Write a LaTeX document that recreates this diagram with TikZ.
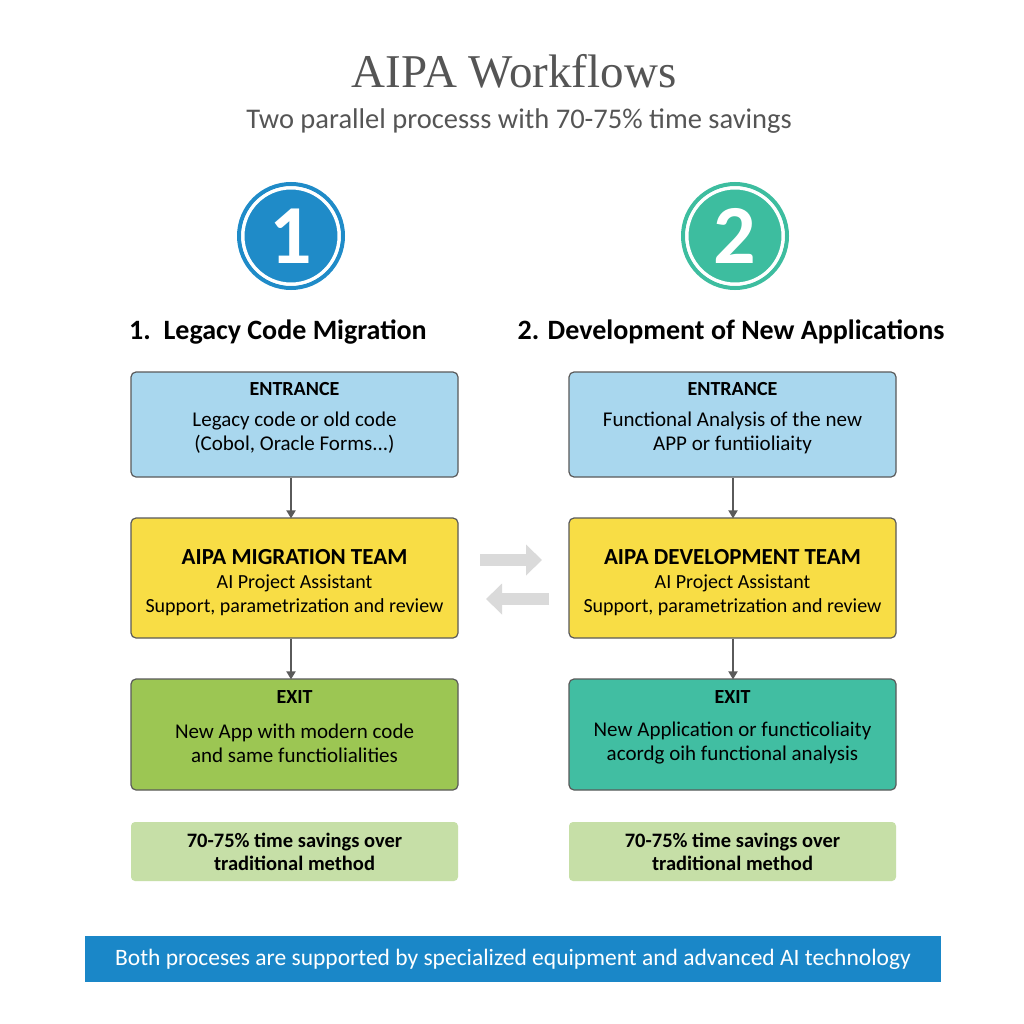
\documentclass[tikz,border=0pt]{standalone}
\usepackage{fontspec}
\setmainfont{Carlito}
\newfontfamily\titlefont{Liberation Serif}
\usetikzlibrary{arrows.meta,shapes.arrows}
\definecolor{cBlueLt}{HTML}{A9D7EE}
\definecolor{cYellow}{HTML}{F8DD45}
\definecolor{cGreen}{HTML}{9CC653}
\definecolor{cTeal}{HTML}{41BEA2}
\definecolor{cSave}{HTML}{C6DFA7}
\definecolor{cCirA}{HTML}{1F8BC8}
\definecolor{cCirB}{HTML}{3DBD9F}
\definecolor{cBanner}{HTML}{1A87C8}
\definecolor{cBorder}{HTML}{5A5A5A}
\definecolor{cGreyTxt}{HTML}{555555}
\definecolor{cArrow}{HTML}{DADADA}
\tikzset{
  flowbox/.style={draw=cBorder, line width=1.2pt, rounded corners=5pt, minimum width=327pt, align=center, inner sep=0pt},
  savebox/.style={fill=cSave, rounded corners=4pt, minimum width=327pt, minimum height=59pt, align=center, inner sep=0pt, font=\bfseries\fontsize{20.5}{23}\selectfont},
  circnum/.style={circle, fill=#1, draw=white, line width=3pt, minimum size=96pt, inner sep=0pt, font=\bfseries\fontsize{84}{84}\selectfont, text=white},
  ring/.style={circle, draw=#1, line width=4pt, minimum size=104pt},
  flowarrow/.style={-{Triangle[length=8pt,width=9pt]}, draw=cBorder, line width=1.8pt},
  heading/.style={font=\bfseries\fontsize{28}{32}\selectfont},
  boxhead/.style={font=\bfseries\fontsize{20}{22}\selectfont},
  boxbody/.style={font=\fontsize{21}{24}\selectfont, align=center},
}
\begin{document}
\begin{tikzpicture}[x=1pt,y=-1pt]
\useasboundingbox[fill=white] (0,0) rectangle (1024,1024);
% titles
\node[text=cGreyTxt, font=\titlefont\fontsize{47}{50}\selectfont] (title) at (514,71) {AIPA Workflows};
\node[text=cGreyTxt, font=\fontsize{28.5}{32}\selectfont] (sub) at (519,121) {Two parallel processs with 70-75\% time savings};
% circles
\node[ring=cCirA] (ringA) at (291,236) {};
\node[circnum=cCirA] (cA) at (291,236) {1};
\node[ring=cCirB] (ringB) at (735,236) {};
\node[circnum=cCirB] (cB) at (735,236) {2};
% headings
\node[heading] (hA) at (278,332) {1.\ \ Legacy Code Migration};
\node[heading] (hB) at (731,332) {2. Development of New Applications};
% left column
\node[flowbox, fill=cBlueLt, minimum height=105pt] (entA) at (294.5,424.5) {};
\node[boxhead] (entAh) at (294.5,389) {ENTRANCE};
\node[boxbody] (entAt) at (294.5,433) {Legacy code or old code\\(Cobol, Oracle Forms...)};
\node[flowbox, fill=cYellow, minimum height=120pt] (teamA) at (294.5,578) {};
\node[font=\fontsize{20}{24}\selectfont, align=center] (teamAt) at (294.5,583) {{\bfseries\fontsize{23}{24}\selectfont AIPA MIGRATION TEAM}\\AI Project Assistant\\Support, parametrization and review};
\node[flowbox, fill=cGreen, minimum height=111pt] (exitA) at (294.5,734.5) {};
\node[boxhead] (exitAh) at (294.5,697) {EXIT};
\node[boxbody] (exitAt) at (294.5,743) {New App with modern code\\and same functiolialities};
\node[savebox] (saveA) at (294.5,851.5) {70-75\% time savings over\\traditional method};
% right column
\node[flowbox, fill=cBlueLt, minimum height=105pt] (entB) at (732.5,424.5) {};
\node[boxhead] (entBh) at (732.5,389) {ENTRANCE};
\node[boxbody] (entBt) at (732.5,433) {Functional Analysis of the new\\APP or funtiioliaity};
\node[flowbox, fill=cYellow, minimum height=120pt] (teamB) at (732.5,578) {};
\node[font=\fontsize{20}{24}\selectfont, align=center] (teamBt) at (732.5,583) {{\bfseries\fontsize{23}{24}\selectfont AIPA DEVELOPMENT TEAM}\\AI Project Assistant\\Support, parametrization and review};
\node[flowbox, fill=cTeal, minimum height=111pt] (exitB) at (732.5,734.5) {};
\node[boxhead] (exitBh) at (732.5,697) {EXIT};
\node[boxbody] (exitBt) at (732.5,743) {New Application or functicoliaity\\acordg oih functional analysis};
\node[savebox] (saveB) at (732.5,851.5) {70-75\% time savings over\\traditional method};
% vertical arrows
\draw[flowarrow] (entA.south -| 291,0) -- ([yshift=-1pt]teamA.north -| 291,0);
\draw[flowarrow] (teamA.south -| 291,0) -- ([yshift=-1pt]exitA.north -| 291,0);
\draw[flowarrow] (entB.south -| 733,0) -- ([yshift=-1pt]teamB.north -| 733,0);
\draw[flowarrow] (teamB.south -| 733,0) -- ([yshift=-1pt]exitB.north -| 733,0);
% grey exchange arrows
\coordinate (rA) at (480,560);
\coordinate (rB) at (542,560);
\coordinate (lA) at (549,599);
\coordinate (lB) at (486,599);
\draw[cArrow, line width=12pt, -{Triangle[length=16pt,width=30pt]}] (rA) -- (rB);
\draw[cArrow, line width=12pt, -{Triangle[length=16pt,width=30pt]}] (lA) -- (lB);
% banner
\node[fill=cBanner, minimum width=856pt, minimum height=46pt, inner sep=0pt, text=white, font=\fontsize{23.5}{26}\selectfont] (banner) at (513,959) {Both proceses are supported by specialized equipment and advanced AI technology};
\end{tikzpicture}
\end{document}
